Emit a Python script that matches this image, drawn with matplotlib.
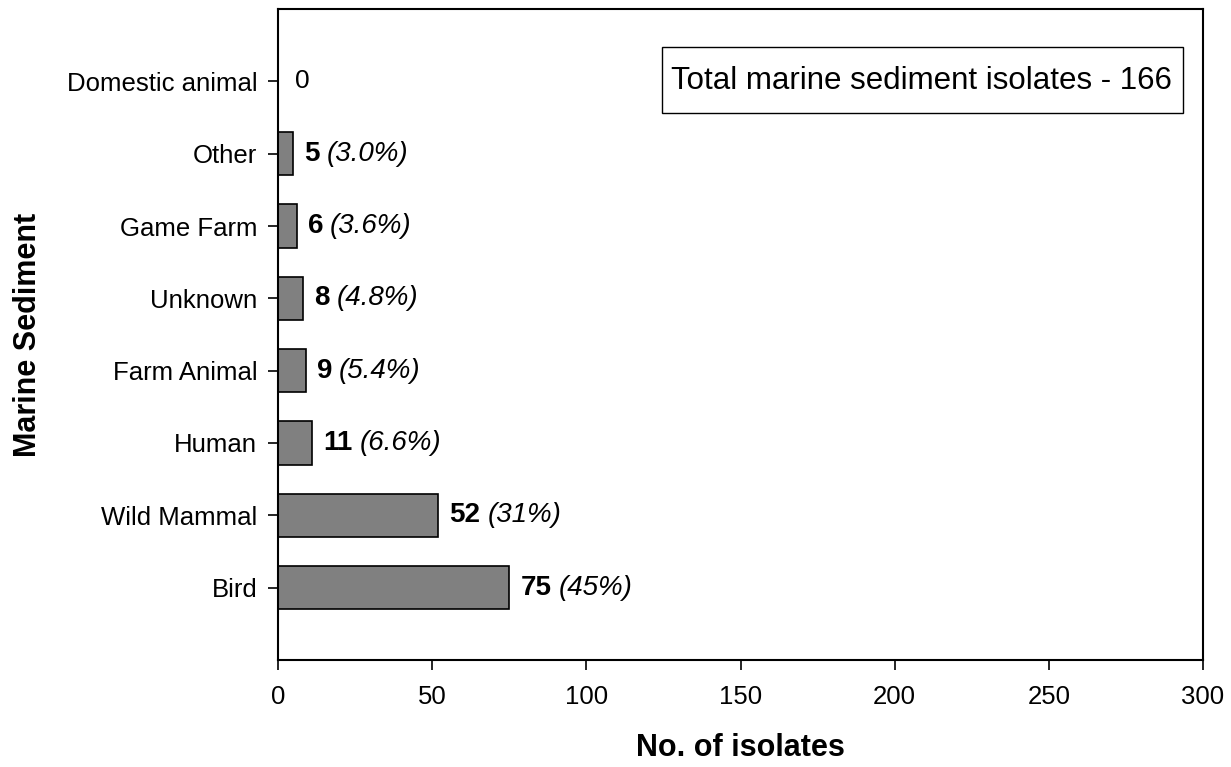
import matplotlib.pyplot as plt
from matplotlib.patches import Rectangle

plt.rcParams['font.family'] = ['Liberation Sans', 'DejaVu Sans']

# source categories, bottom to top
categories = ['Bird', 'Wild Mammal', 'Human', 'Farm Animal', 'Unknown',
              'Game Farm', 'Other', 'Domestic animal']
counts = [75, 52, 11, 9, 8, 6, 5, 0]
percents = ['(45%)', '(31%)', '(6.6%)', '(5.4%)', '(4.8%)', '(3.6%)', '(3.0%)', '']
xticks = [0, 50, 100, 150, 200, 250, 300]

fig = plt.figure(figsize=(12.31, 7.67), dpi=100)
ax = fig.add_axes([278 / 1231, 1 - 660 / 767, 925 / 1231, 651 / 767])

ypos = list(range(len(categories)))
ax.barh(ypos, counts, height=0.6, color='#808080', edgecolor='black', linewidth=1.2)

for y, c, p in zip(ypos, counts, percents):
    if c == 0:
        ax.annotate(str(c), xy=(c, y), xytext=(12, 0), textcoords='offset points',
                    va='center', ha='left', fontsize=19)
        continue
    t = ax.annotate(str(c), xy=(c, y), xytext=(8, 0), textcoords='offset points',
                    va='center', ha='left', fontsize=20, fontweight='bold')
    ax.annotate(p, xy=(1, 0.5), xycoords=t, xytext=(5, 0), textcoords='offset points',
                va='center', ha='left', fontsize=20, style='italic')

ax.set_xlim(0, 300)
ax.set_ylim(-1, len(categories))
ax.set_xticks(xticks)
ax.set_yticks(ypos)
ax.set_yticklabels(categories)
ax.tick_params(axis='both', direction='out', length=7, width=1.2, labelsize=18.5)
ax.tick_params(axis='x', pad=11)
ax.tick_params(axis='y', pad=8)
for s in ax.spines.values():
    s.set_linewidth(1.5)

ax.set_xlabel('No. of isolates', fontsize=22, fontweight='bold', labelpad=17)
ax.set_ylabel('Marine Sediment', fontsize=22, fontweight='bold', labelpad=17)

# total box
ax.add_patch(Rectangle((0.4151, 0.8402), 0.5633, 0.1014, transform=ax.transAxes,
                       facecolor='white', edgecolor='black', linewidth=1))
ax.text(0.4245, 0.889, 'Total marine sediment isolates - 166', transform=ax.transAxes,
        ha='left', va='center', fontsize=22.5)

fig.savefig('out.png', dpi=100)
